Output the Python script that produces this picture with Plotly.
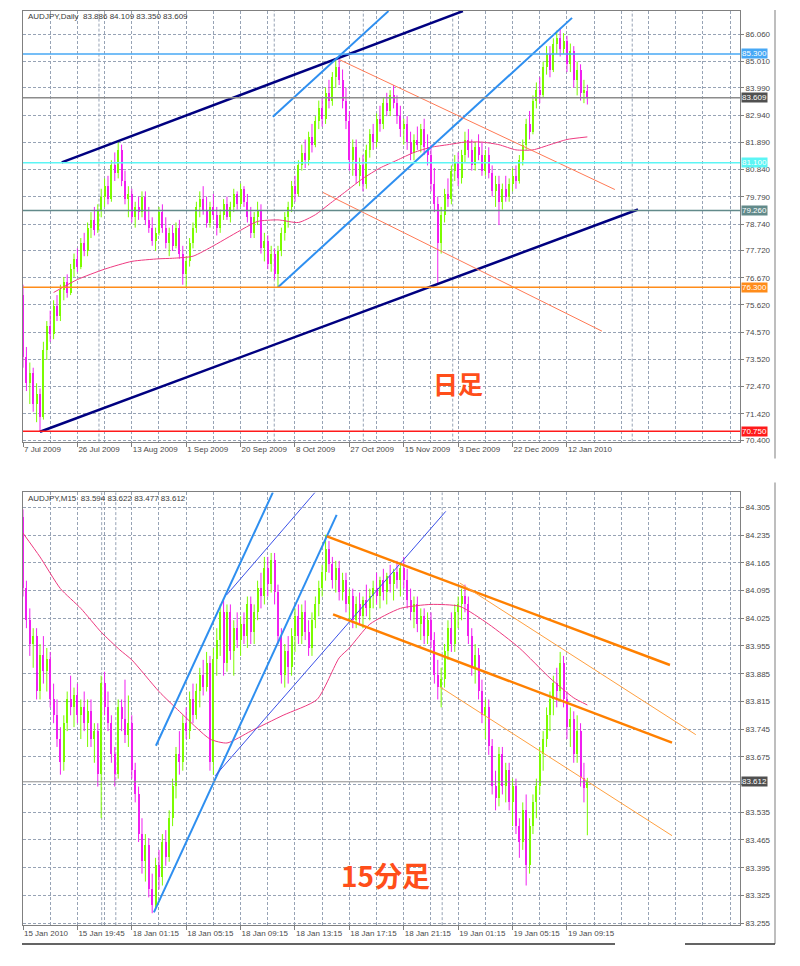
import plotly.graph_objects as go

# ---------------- DATA ----------------
# Daily AUDJPY (bar index 0 = 7 Jul 2009)
d_open = [76.0, 73.6, 72.6, 73.0, 71.8, 72.2, 71.3, 73.9, 74.8, 74.5,
          75.6, 75.2, 76.2, 76.5, 76.1, 77.0, 77.4, 77.1, 78.0, 77.7,
          78.6, 78.9, 78.5, 79.3, 79.8, 80.2, 79.7, 81.0, 80.7, 81.6,
          80.4, 79.7, 79.9, 79.0, 79.4, 79.2, 79.8, 78.9, 78.6, 78.1,
          78.4, 79.2, 78.6, 78.0, 78.4, 77.9, 78.6, 77.6, 76.8, 77.3,
          78.0, 78.6, 79.4, 79.7, 79.3, 78.8, 79.4, 79.1, 78.6, 79.1,
          79.5, 79.0, 79.4, 79.9, 79.5, 80.1, 79.6, 79.0, 78.4, 79.0,
          79.3, 77.8, 78.1, 77.2, 77.6, 76.8, 77.7, 78.4, 79.0, 79.4,
          80.2, 79.9, 81.0, 81.5, 81.2, 82.1, 81.8, 82.7, 83.2, 82.8,
          83.8, 83.5, 84.4, 84.8, 84.3, 83.5, 82.7, 81.2, 81.7, 80.6,
          81.0, 80.3, 81.6, 82.2, 81.9, 82.8, 82.6, 83.4, 83.1, 83.7,
          83.4, 82.9, 82.4, 82.6, 81.9, 81.5, 82.0, 81.8, 82.4, 81.7,
          81.4, 80.3, 79.5, 78.0, 79.1, 79.9, 79.7, 80.8, 81.1, 80.5,
          81.4, 82.0, 81.6, 81.0, 81.7, 81.4, 80.8, 81.4, 80.7, 80.0,
          80.3, 79.6, 80.1, 79.8, 80.3, 80.6, 80.4, 81.2, 81.8, 82.6,
          82.3, 83.5, 83.9, 83.7, 84.8, 85.3, 84.7, 85.7, 85.9, 85.5,
          85.8, 84.9, 85.4, 84.3, 84.7, 83.8, 83.886]
d_high = [76.4, 74.0, 73.4, 73.2, 72.6, 72.4, 74.2, 75.0, 75.4, 75.8,
          76.0, 76.4, 76.7, 76.8, 77.2, 77.6, 77.8, 78.2, 78.4, 78.8,
          79.2, 79.4, 79.5, 80.1, 80.5, 80.6, 81.2, 81.5, 81.9, 81.8,
          80.8, 80.2, 80.1, 79.6, 79.8, 80.0, 80.0, 79.4, 79.0, 78.6,
          79.4, 79.5, 79.0, 78.6, 78.7, 78.8, 78.9, 77.9, 77.5, 78.2,
          78.8, 79.6, 80.0, 80.2, 79.8, 79.6, 79.9, 79.4, 79.3, 79.7,
          79.8, 79.6, 80.1, 80.0, 80.3, 80.2, 79.9, 79.4, 79.2, 79.6,
          79.5, 78.4, 78.3, 77.9, 77.8, 77.9, 78.6, 79.2, 79.6, 80.4,
          80.6, 81.2, 81.8, 82.0, 82.3, 82.6, 82.9, 83.5, 83.6, 84.0,
          84.3, 84.6, 85.1, 85.1, 84.7, 84.0, 83.1, 82.0, 82.0, 81.3,
          81.4, 81.8, 82.4, 82.6, 83.0, 83.3, 83.6, 83.8, 83.9, 84.1,
          83.7, 83.3, 82.8, 82.9, 82.3, 82.2, 82.5, 82.6, 82.8, 82.2,
          81.8, 80.9, 79.8, 79.4, 80.1, 80.5, 81.0, 81.4, 81.5, 81.6,
          82.3, 82.4, 82.0, 81.9, 82.2, 81.9, 81.6, 81.7, 81.0, 80.6,
          80.6, 80.3, 80.6, 80.5, 80.9, 81.0, 81.4, 82.0, 82.8, 83.1,
          83.7, 84.2, 84.4, 85.0, 85.6, 85.6, 85.9, 86.2, 86.3, 86.1,
          86.0, 85.7, 85.6, 85.0, 84.9, 84.3, 84.109]
d_low = [73.2, 72.3, 71.8, 71.5, 71.1, 70.75, 71.2, 73.5, 74.2, 74.3,
         75.0, 75.0, 75.8, 75.9, 76.0, 76.7, 76.9, 77.0, 77.5, 77.5,
         78.2, 78.3, 78.4, 79.0, 79.4, 79.5, 79.6, 80.4, 80.5, 80.2,
         79.5, 79.0, 78.8, 78.6, 78.9, 79.0, 78.7, 78.4, 77.9, 77.7,
         78.3, 78.4, 77.8, 77.5, 77.7, 77.8, 77.4, 76.4, 76.3, 77.1,
         77.8, 78.4, 79.0, 79.1, 78.6, 78.6, 78.9, 78.3, 78.4, 78.9,
         78.9, 78.8, 79.2, 79.3, 79.4, 79.4, 78.8, 78.2, 78.2, 78.7,
         77.6, 77.3, 77.0, 76.9, 76.6, 76.3, 77.5, 78.1, 78.6, 79.2,
         79.6, 79.8, 80.8, 80.9, 81.0, 81.5, 81.7, 82.4, 82.5, 82.6,
         83.2, 83.3, 84.0, 84.1, 83.2, 82.4, 80.8, 80.6, 80.3, 80.2,
         80.0, 80.1, 81.3, 81.6, 81.7, 82.3, 82.4, 82.9, 82.9, 83.2,
         82.6, 82.1, 81.8, 81.6, 81.2, 81.2, 81.6, 81.5, 81.4, 81.0,
         80.0, 79.2, 76.4, 77.6, 78.8, 79.4, 79.5, 80.4, 80.2, 80.3,
         81.1, 81.3, 80.8, 80.8, 81.2, 80.6, 80.6, 80.5, 79.8, 79.4,
         78.7, 79.3, 79.6, 79.6, 80.0, 80.1, 80.3, 81.0, 81.6, 82.0,
         82.2, 83.2, 83.4, 83.6, 84.5, 84.4, 84.6, 85.3, 85.2, 85.3,
         84.6, 84.6, 84.0, 83.7, 83.5, 83.4, 83.35]
d_close = [73.6, 72.6, 73.0, 71.8, 72.2, 71.3, 73.9, 74.8, 74.5, 75.6,
           75.2, 76.2, 76.5, 76.1, 77.0, 77.4, 77.1, 78.0, 77.7, 78.6,
           78.9, 78.5, 79.3, 79.8, 80.2, 79.7, 81.0, 80.7, 81.6, 80.4,
           79.7, 79.9, 79.0, 79.4, 79.2, 79.8, 78.9, 78.6, 78.1, 78.4,
           79.2, 78.6, 78.0, 78.4, 77.9, 78.6, 77.6, 76.8, 77.3, 78.0,
           78.6, 79.4, 79.7, 79.3, 78.8, 79.4, 79.1, 78.6, 79.1, 79.5,
           79.0, 79.4, 79.9, 79.5, 80.1, 79.6, 79.0, 78.4, 79.0, 79.3,
           77.8, 78.1, 77.2, 77.6, 76.8, 77.7, 78.4, 79.0, 79.4, 80.2,
           79.9, 81.0, 81.5, 81.2, 82.1, 81.8, 82.7, 83.2, 82.8, 83.8,
           83.5, 84.4, 84.8, 84.3, 83.5, 82.7, 81.2, 81.7, 80.6, 81.0,
           80.3, 81.6, 82.2, 81.9, 82.8, 82.6, 83.4, 83.1, 83.7, 83.4,
           82.9, 82.4, 82.6, 81.9, 81.5, 82.0, 81.8, 82.4, 81.7, 81.4,
           80.3, 79.5, 78.0, 79.1, 79.9, 79.7, 80.8, 81.1, 80.5, 81.4,
           82.0, 81.6, 81.0, 81.7, 81.4, 80.8, 81.4, 80.7, 80.0, 80.3,
           79.6, 80.1, 79.8, 80.3, 80.6, 80.4, 81.2, 81.8, 82.6, 82.3,
           83.5, 83.9, 83.7, 84.8, 85.3, 84.7, 85.7, 85.9, 85.5, 85.8,
           84.9, 85.4, 84.3, 84.7, 83.8, 83.9, 83.609]
d_ma_idx = [9, 16, 24, 32, 40, 44, 50, 56, 60, 64, 69, 75, 81, 86, 90, 95, 100,
            105, 110, 115, 120, 125, 130, 135, 140, 145, 150, 155, 160, 166]
d_ma_val = [76.1, 76.6, 77.0, 77.3, 77.4, 77.42, 77.5, 77.9, 78.2, 78.5, 78.84,
            78.9, 78.8, 79.1, 79.5, 80.0, 80.5, 80.9, 81.2, 81.5, 81.7, 81.8,
            81.9, 81.9, 81.8, 81.6, 81.6, 81.8, 82.0, 82.1]
d_xtick_idx = [0, 16, 32, 48, 64, 80, 96, 112, 128, 144, 160]
d_xtick_txt = ["7 Jul 2009", "26 Jul 2009", "13 Aug 2009", "1 Sep 2009",
               "20 Sep 2009", "8 Oct 2009", "27 Oct 2009", "15 Nov 2009",
               "3 Dec 2009", "22 Dec 2009", "12 Jan 2010"]
d_yticks = [86.060, 85.010, 83.990, 82.940, 81.890, 80.840, 79.790, 78.740,
            77.720, 76.670, 75.620, 74.570, 73.520, 72.470, 71.420, 70.400]
d_levels = [85.300, 83.609, 81.100, 79.260, 76.300, 70.750]
d_level_names = ["resist_blue", "bid", "cyan", "slate", "orange", "red"]
# trend lines: (start index, start price, end index, end price)
d_trend_navy = [(11.4, 81.12, 129.4, 86.95), (5.0, 70.73, 180.9, 79.30)]
d_trend_blue = [(75.0, 76.30, 161.5, 86.69), (73.5, 82.88, 107.5, 86.95)]
d_trend_coral = [(93.2, 85.07, 174.1, 80.07), (88.2, 79.96, 170.3, 74.61)]

# M15 AUDJPY (bar index 0 = 15 Jan 2010 15:45)
m_open = [84.28, 84.10, 84.02, 83.96, 83.98, 83.84, 83.93, 83.89, 83.92, 83.82,
          83.78, 83.72, 83.66, 83.76, 83.82, 83.80, 83.83, 83.78, 83.80, 83.76,
          83.79, 83.72, 83.74, 83.63, 83.86, 83.80, 83.76, 83.68, 83.63, 83.80,
          83.77, 83.73, 83.76, 83.64, 83.58, 83.48, 83.41, 83.45, 83.34, 83.30,
          83.40, 83.37, 83.46, 83.42, 83.52, 83.60, 83.68, 83.66, 83.76, 83.74,
          83.82, 83.78, 83.84, 83.88, 83.85, 83.91, 83.66, 83.92, 83.97, 84.04,
          83.91, 84.04, 83.94, 84.00, 83.97, 84.01, 83.98, 84.06, 83.99, 84.04,
          84.10, 84.08, 84.15, 84.11, 84.17, 84.09, 83.98, 83.88, 83.94, 83.90,
          83.98, 84.03, 83.98, 84.04, 83.99, 83.95, 84.02, 84.06, 84.10, 84.14,
          84.20, 84.16, 84.12, 84.15, 84.09, 84.12, 84.06, 84.08, 84.02, 84.06,
          84.03, 84.07, 84.05, 84.08, 84.10, 84.08, 84.12, 84.09, 84.13, 84.11,
          84.14, 84.12, 84.15, 84.12, 84.07, 84.04, 84.06, 84.01, 84.03, 83.98,
          84.02, 83.97, 83.88, 83.85, 83.87, 83.94, 84.00, 83.96, 84.04, 84.06,
          84.08, 84.06, 83.98, 83.90, 83.93, 83.84, 83.78, 83.80, 83.70, 83.60,
          83.57, 83.68, 83.60, 83.64, 83.56, 83.60, 83.50, 83.46, 83.54, 83.40,
          83.50, 83.56, 83.60, 83.68, 83.72, 83.78, 83.82, 83.86, 83.84, 83.91,
          83.82, 83.75, 83.77, 83.68, 83.74, 83.62, 83.594]
m_high = [84.30, 84.12, 84.05, 84.00, 84.00, 83.96, 83.98, 83.95, 83.94, 83.86,
          83.82, 83.75, 83.78, 83.84, 83.88, 83.85, 83.86, 83.82, 83.84, 83.82,
          83.82, 83.76, 83.76, 83.88, 83.89, 83.84, 83.78, 83.70, 83.82, 83.82,
          83.87, 83.83, 83.78, 83.66, 83.60, 83.52, 83.48, 83.47, 83.38, 83.42,
          83.44, 83.48, 83.49, 83.54, 83.62, 83.70, 83.74, 83.78, 83.80, 83.84,
          83.86, 83.86, 83.90, 83.92, 83.94, 83.93, 83.95, 84.00, 84.06, 84.07,
          84.06, 84.06, 84.02, 84.04, 84.03, 84.04, 84.08, 84.08, 84.06, 84.12,
          84.14, 84.18, 84.18, 84.19, 84.19, 84.11, 84.00, 83.96, 83.98, 84.00,
          84.05, 84.06, 84.06, 84.07, 84.02, 84.04, 84.08, 84.12, 84.16, 84.236,
          84.22, 84.18, 84.17, 84.17, 84.14, 84.14, 84.10, 84.10, 84.08, 84.09,
          84.08, 84.11, 84.10, 84.12, 84.14, 84.13, 84.15, 84.14, 84.16, 84.15,
          84.17, 84.16, 84.18, 84.15, 84.10, 84.08, 84.08, 84.05, 84.05, 84.04,
          84.04, 83.99, 83.92, 83.90, 83.96, 84.02, 84.04, 84.06, 84.08, 84.10,
          84.11, 84.08, 84.00, 83.96, 83.95, 83.87, 83.82, 83.82, 83.72, 83.64,
          83.70, 83.70, 83.66, 83.66, 83.62, 83.62, 83.52, 83.56, 83.58, 83.52,
          83.58, 83.62, 83.70, 83.74, 83.80, 83.84, 83.88, 83.90, 83.94, 83.93,
          83.84, 83.80, 83.79, 83.78, 83.76, 83.66, 83.622]
m_low = [84.08, 84.00, 83.93, 83.90, 83.82, 83.82, 83.86, 83.84, 83.80, 83.76,
         83.70, 83.63, 83.64, 83.74, 83.78, 83.75, 83.76, 83.72, 83.74, 83.70,
         83.70, 83.66, 83.60, 83.52, 83.78, 83.74, 83.66, 83.60, 83.62, 83.74,
         83.71, 83.70, 83.62, 83.56, 83.46, 83.38, 83.36, 83.32, 83.28, 83.29,
         83.34, 83.35, 83.40, 83.41, 83.50, 83.57, 83.63, 83.64, 83.72, 83.72,
         83.76, 83.77, 83.80, 83.83, 83.84, 83.64, 83.63, 83.88, 83.93, 83.88,
         83.89, 83.92, 83.88, 83.95, 83.93, 83.96, 83.95, 83.96, 83.96, 84.02,
         84.05, 84.06, 84.08, 84.09, 84.06, 83.96, 83.86, 83.85, 83.86, 83.88,
         83.94, 83.96, 83.96, 83.97, 83.93, 83.93, 84.00, 84.03, 84.08, 84.12,
         84.14, 84.10, 84.09, 84.07, 84.07, 84.04, 84.02, 84.00, 84.00, 84.01,
         84.00, 84.03, 84.02, 84.05, 84.06, 84.05, 84.07, 84.06, 84.09, 84.07,
         84.10, 84.08, 84.10, 84.05, 84.02, 84.00, 83.99, 83.97, 83.96, 83.96,
         83.95, 83.86, 83.82, 83.80, 83.85, 83.92, 83.94, 83.94, 84.00, 84.02,
         84.04, 83.96, 83.88, 83.86, 83.82, 83.76, 83.72, 83.68, 83.58, 83.54,
         83.55, 83.58, 83.56, 83.54, 83.50, 83.48, 83.42, 83.44, 83.35, 83.38,
         83.48, 83.52, 83.58, 83.64, 83.70, 83.74, 83.78, 83.80, 83.82, 83.80,
         83.72, 83.70, 83.66, 83.66, 83.60, 83.56, 83.477]
m_close = [84.10, 84.02, 83.96, 83.98, 83.84, 83.93, 83.89, 83.92, 83.82, 83.78,
           83.72, 83.66, 83.76, 83.82, 83.80, 83.83, 83.78, 83.80, 83.76, 83.79,
           83.72, 83.74, 83.63, 83.86, 83.80, 83.76, 83.68, 83.63, 83.80, 83.77,
           83.73, 83.76, 83.64, 83.58, 83.48, 83.41, 83.45, 83.34, 83.30, 83.40,
           83.37, 83.46, 83.42, 83.52, 83.60, 83.68, 83.66, 83.76, 83.74, 83.82,
           83.78, 83.84, 83.88, 83.85, 83.91, 83.66, 83.92, 83.97, 84.04, 83.91,
           84.04, 83.94, 84.00, 83.97, 84.01, 83.98, 84.06, 83.99, 84.04, 84.10,
           84.08, 84.15, 84.11, 84.17, 84.09, 83.98, 83.88, 83.94, 83.90, 83.98,
           84.03, 83.98, 84.04, 83.99, 83.95, 84.02, 84.06, 84.10, 84.14, 84.20,
           84.16, 84.12, 84.15, 84.09, 84.12, 84.06, 84.08, 84.02, 84.06, 84.03,
           84.07, 84.05, 84.08, 84.10, 84.08, 84.12, 84.09, 84.13, 84.11, 84.14,
           84.12, 84.15, 84.12, 84.07, 84.04, 84.06, 84.01, 84.03, 83.98, 84.02,
           83.97, 83.88, 83.85, 83.87, 83.94, 84.00, 83.96, 84.04, 84.06, 84.08,
           84.06, 83.98, 83.90, 83.93, 83.84, 83.78, 83.80, 83.70, 83.60, 83.57,
           83.68, 83.60, 83.64, 83.56, 83.60, 83.50, 83.46, 83.54, 83.40, 83.50,
           83.56, 83.60, 83.68, 83.72, 83.78, 83.82, 83.86, 83.84, 83.91, 83.82,
           83.75, 83.77, 83.68, 83.74, 83.62, 83.594, 83.612]
m_ma_idx = [0, 5, 11, 17, 23, 28.5, 32, 40, 46, 55, 60, 67, 76.5, 86.5, 93, 96,
            102, 111, 120, 128.5, 137, 146, 155, 162, 166]
m_ma_val = [84.24, 84.18, 84.10, 84.05, 83.99, 83.945, 83.92, 83.84, 83.79, 83.72,
            83.71, 83.74, 83.78, 83.82, 83.925, 83.95, 84.01, 84.05, 84.06, 84.055,
            84.01, 83.95, 83.874, 83.824, 83.806]
m_xtick_idx = [0, 16, 32, 48, 64, 80, 96, 112, 128, 144, 160]
m_xtick_txt = ["15 Jan 2010", "15 Jan 19:45", "18 Jan 01:15", "18 Jan 05:15",
               "18 Jan 09:15", "18 Jan 13:15", "18 Jan 17:15", "18 Jan 21:15",
               "19 Jan 01:15", "19 Jan 05:15", "19 Jan 09:15"]
m_yticks = [84.305, 84.235, 84.165, 84.095, 84.025, 83.955, 83.885, 83.815,
            83.745, 83.675, 83.605, 83.535, 83.465, 83.395, 83.325, 83.255]
m_levels = [83.612]
m_trend_blue_thick = [(39.1, 83.703, 73.5, 84.343), (38.5, 83.282, 92.26, 84.286)]
m_trend_blue_thin = [(56.5, 83.627, 124.35, 84.295), (59.9, 84.084, 85.9, 84.343)]
m_trend_orange_thick = [(89.4, 84.232, 190.3, 83.907), (91.2, 84.035, 190.9, 83.711)]
m_trend_orange_thin = [(128.5, 84.114, 197.9, 83.731), (122.6, 83.852, 190.9, 83.476)]

# ---------------- STYLE ----------------
W, H = 800, 966
UP = "#7CFC00"
DN = "#F020F0"
MA_COL = "#EE3A80"
GRID = "#97A3B5"
FRAME = "#808080"
TXT = "#4A4A4A"
FONT = "Liberation Sans, Arial, sans-serif"
level_style = {
    "resist_blue": ("#47A8F5", "#47A8F5"),
    "bid": ("#8C8C8C", "#505050"),
    "cyan": ("#5CF5F5", "#5CF5F5"),
    "slate": ("#628A8A", "#628A8A"),
    "orange": ("#FF8C1A", "#FF8C1A"),
    "red": ("#FF1A1A", "#FF1A1A"),
}


def py(y):
    return 1 - y / H


fig = go.Figure()


def add_candles(o, h, l, c, xa, ya, eps):
    n = len(o)
    up = [i for i in range(n) if c[i] >= o[i]]
    dn = [i for i in range(n) if c[i] < o[i]]
    for group, col in ((up, UP), (dn, DN)):
        wx, wy = [], []
        for i in group:
            wx += [i, i, None]
            wy += [l[i], h[i], None]
        fig.add_trace(go.Scatter(x=wx, y=wy, mode="lines",
                                 line=dict(color=col, width=1),
                                 xaxis=xa, yaxis=ya, hoverinfo="skip"))
        fig.add_trace(go.Bar(x=group,
                             base=[min(o[i], c[i]) for i in group],
                             y=[max(abs(c[i] - o[i]), eps) for i in group],
                             width=0.62,
                             marker=dict(color=col, line=dict(width=0)),
                             xaxis=xa, yaxis=ya, hoverinfo="skip"))


def add_lines(lines, color, width, xa, ya):
    for (i0, p0, i1, p1) in lines:
        fig.add_trace(go.Scatter(x=[i0, i1], y=[p0, p1], mode="lines",
                                 line=dict(color=color, width=width),
                                 xaxis=xa, yaxis=ya, hoverinfo="skip"))


# ---- top (daily) ----
add_candles(d_open, d_high, d_low, d_close, "x", "y", 0.03)
fig.add_trace(go.Scatter(x=d_ma_idx, y=d_ma_val, mode="lines",
                         line=dict(color=MA_COL, width=1, shape="spline", smoothing=0.6),
                         xaxis="x", yaxis="y", hoverinfo="skip"))
add_lines(d_trend_navy, "#000080", 2.5, "x", "y")
add_lines(d_trend_blue, "#2E8FF0", 2, "x", "y")
add_lines(d_trend_coral, "#FF7A55", 1, "x", "y")

# ---- bottom (M15) ----
add_candles(m_open, m_high, m_low, m_close, "x2", "y2", 0.003)
fig.add_trace(go.Scatter(x=m_ma_idx, y=m_ma_val, mode="lines",
                         line=dict(color=MA_COL, width=1, shape="spline", smoothing=0.6),
                         xaxis="x2", yaxis="y2", hoverinfo="skip"))
add_lines(m_trend_blue_thick, "#2E8FF0", 2, "x2", "y2")
add_lines(m_trend_blue_thin, "#3A50E8", 1, "x2", "y2")
add_lines(m_trend_orange_thick, "#FF8000", 2.5, "x2", "y2")
add_lines(m_trend_orange_thin, "#FFA040", 1, "x2", "y2")

shapes = []
annotations = []

# level lines + labels
for lv, name in zip(d_levels, d_level_names):
    lc, bg = level_style[name]
    shapes.append(dict(type="line", xref="x domain", yref="y", x0=0, x1=1,
                       y0=lv, y1=lv, line=dict(color=lc, width=1.5), layer="above"))
    annotations.append(dict(xref="paper", yref="y", x=741 / W, y=lv, xanchor="left",
                            yanchor="middle", text=f"{lv:.3f}", showarrow=False,
                            bgcolor=bg, borderpad=0,
                            font=dict(family=FONT, size=8, color="white")))
for lv in m_levels:
    shapes.append(dict(type="line", xref="x2 domain", yref="y2", x0=0, x1=1,
                       y0=lv, y1=lv, line=dict(color="#8C8C8C", width=1), layer="above"))
    annotations.append(dict(xref="paper", yref="y2", x=741 / W, y=lv, xanchor="left",
                            yanchor="middle", text=f"{lv:.3f}", showarrow=False,
                            bgcolor="#505050", borderpad=0,
                            font=dict(family=FONT, size=8, color="white")))

# extra vertical separators (dashed)
for xv in [22.35, 73.9, 100.1, 126.4, 179.2]:
    shapes.append(dict(type="line", xref="x", yref="y domain", x0=xv, x1=xv, y0=0, y1=1,
                       line=dict(color=GRID, width=1, dash="3px,2px"), layer="below"))
for xv in [23.15, 27.3, 123.3]:
    shapes.append(dict(type="line", xref="x2", yref="y2 domain", x0=xv, x1=xv, y0=0, y1=1,
                       line=dict(color=GRID, width=1, dash="3px,2px"), layer="below"))

# window frame lines
for (x0, y0, x1, y1, col, w) in [(775, 10, 775, 460, "#A8A8A8", 1.5),
                                 (775, 484, 775, 947, "#A8A8A8", 1.5),
                                 (22, 947, 615, 947, "#303030", 1.5),
                                 (685, 947, 775, 947, "#303030", 1.5)]:
    shapes.append(dict(type="line", xref="paper", yref="paper", x0=x0 / W, x1=x1 / W,
                       y0=py(y0), y1=py(y1), line=dict(color=col, width=w)))

# headers
annotations.append(dict(xref="paper", yref="paper", x=26 / W, y=py(17), xanchor="left",
                        yanchor="middle", showarrow=False,
                        text="AUDJPY,Daily&nbsp;&nbsp;83.886 84.109 83.350 83.609",
                        font=dict(family=FONT, size=8, color="#3A3A3A")))
annotations.append(dict(xref="paper", yref="paper", x=26 / W, y=py(500), xanchor="left",
                        yanchor="middle", showarrow=False,
                        text="AUDJPY,M15&nbsp;&nbsp;83.594 83.622 83.477 83.612",
                        font=dict(family=FONT, size=8, color="#3A3A3A")))
# captions
annotations.append(dict(xref="paper", yref="paper", x=458 / W, y=py(384), xanchor="center",
                        yanchor="middle", showarrow=False, text="<b>日足</b>",
                        font=dict(family="Noto Sans CJK JP", size=25, color="#FF4E1A")))
annotations.append(dict(xref="paper", yref="paper", x=385 / W, y=py(878), xanchor="center",
                        yanchor="middle", showarrow=False, text="<b>15分足</b>",
                        font=dict(family="Noto Sans CJK JP", size=28, color="#FF4E1A")))


def xaxis_cfg(vals, txt, anchor):
    return dict(domain=[23 / W, 740 / W], range=[0, 210.9], anchor=anchor,
                tickmode="array", tickvals=vals, ticktext=txt, tickangle=0,
                ticks="outside", ticklen=4, tickcolor=FRAME,
                ticklabelposition="outside right",
                tickfont=dict(family=FONT, size=8, color=TXT),
                showgrid=True, gridcolor=GRID, griddash="3px,2px", gridwidth=1,
                minor=dict(tickmode="linear", tick0=0, dtick=8, showgrid=True,
                           gridcolor=GRID, griddash="3px,2px", gridwidth=1, ticks=""),
                showline=True, linecolor=FRAME, mirror=True, zeroline=False,
                fixedrange=True)


def yaxis_cfg(dom, rng, vals, anchor, hide=()):
    return dict(domain=dom, range=rng, anchor=anchor, side="right",
                tickmode="array", tickvals=vals,
                ticktext=["" if v in hide else f"{v:.3f}" for v in vals],
                ticks="outside", ticklen=3, tickcolor=FRAME,
                tickfont=dict(family=FONT, size=8, color=TXT),
                showgrid=True, gridcolor=GRID, griddash="3px,2px", gridwidth=1,
                showline=True, linecolor=FRAME, mirror=True, zeroline=False,
                fixedrange=True)


fig.update_layout(
    width=W, height=H, margin=dict(l=0, r=0, t=0, b=0),
    paper_bgcolor="white", plot_bgcolor="white",
    showlegend=False, barmode="overlay", bargap=0,
    font=dict(family=FONT, size=8, color=TXT),
    xaxis=xaxis_cfg(d_xtick_idx, d_xtick_txt, "y"),
    yaxis=yaxis_cfg([py(443), py(11)], [70.35, 86.956], d_yticks, "x"),
    xaxis2=xaxis_cfg(m_xtick_idx, m_xtick_txt, "y2"),
    yaxis2=yaxis_cfg([py(928), py(494)], [83.250, 84.3428], m_yticks, "x2",
                     hide=(83.605,)),
    shapes=shapes, annotations=annotations,
)

fig.write_html("out.html")
